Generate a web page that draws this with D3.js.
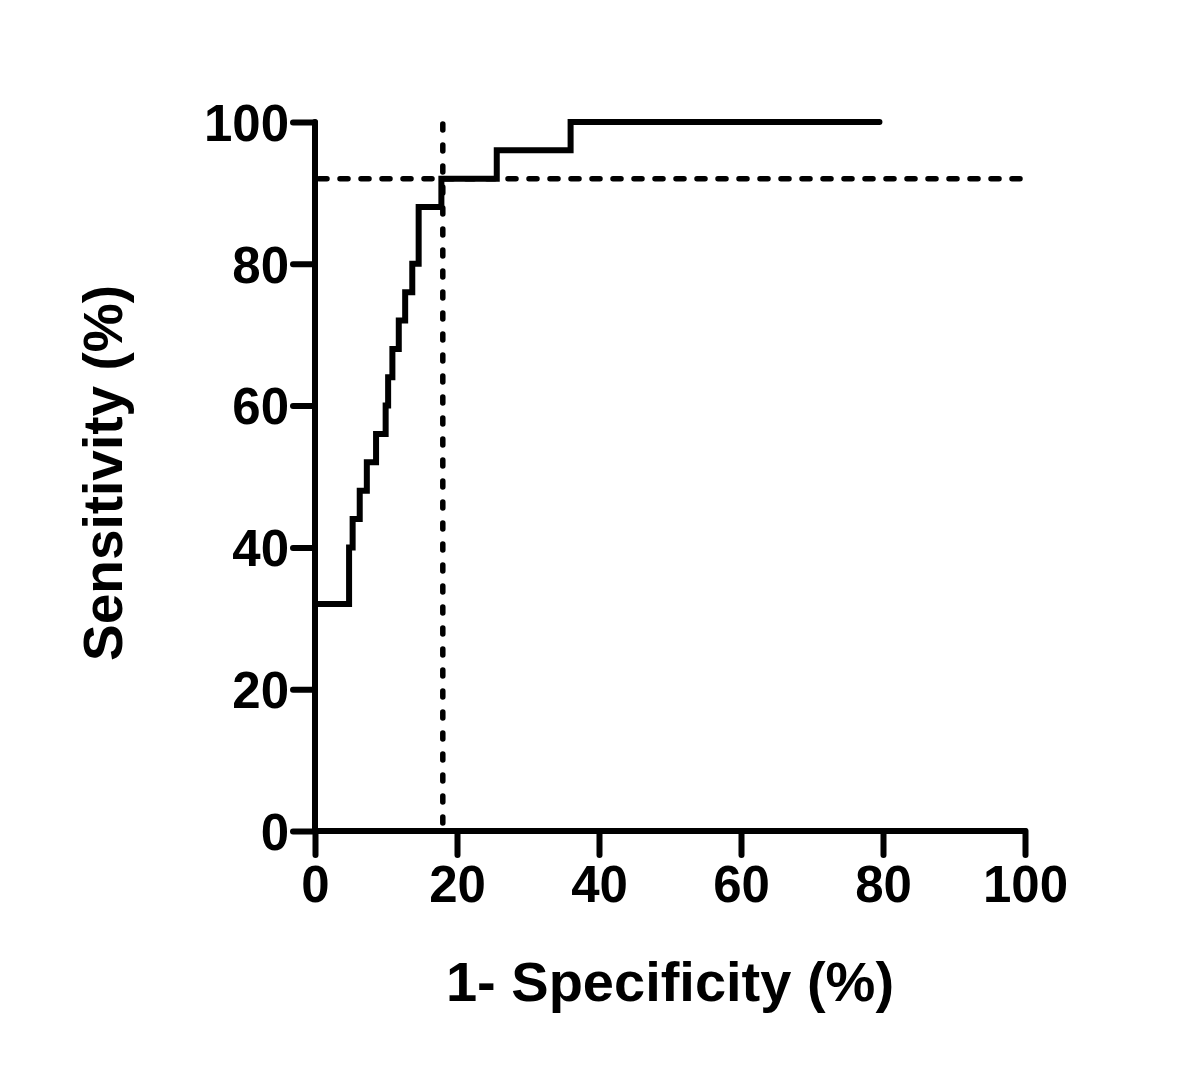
<!DOCTYPE html>
<html lang="en">
<head>
<meta charset="utf-8">
<title>ROC curve</title>
<script src="https://d3js.org/d3.v7.min.js"></script>
<style>
  body { margin: 0; background: #fff; }
  text { font-family: "Liberation Sans", Arial, sans-serif; font-weight: bold; fill: #000; }
</style>
</head>
<body>
<svg id="chart" width="1200" height="1077"></svg>
<script>
// ROC step vertices (1 - specificity, sensitivity), in %
var fpr = [0, 0, 4.8, 5.3, 6.3, 7.3, 8.6, 9.95, 10.3, 10.9, 11.8, 12.7, 13.7, 14.6, 17.8, 25.6, 36.0, 79.5];
var tpr = [0, 32, 40, 44, 48, 52, 56, 60, 64, 68, 72, 76, 80, 88, 92, 96, 100, 100];
// cut-off point marked by dotted lines
var cutX = 18;
var cutY = 92;
var xTicks = [0, 20, 40, 60, 80, 100];
var yTicks = [0, 20, 40, 60, 80, 100];

var svg = d3.select("#chart");

var x = d3.scaleLinear().domain([0, 100]).range([315, 1025]);
var y = d3.scaleLinear().domain([0, 100]).range([831, 122]);

// dotted reference lines
svg.append("line")
   .attr("x1", x(0) + 4).attr("x2", x(100) + 4)
   .attr("y1", y(cutY)).attr("y2", y(cutY))
   .attr("stroke", "#000").attr("stroke-width", 5.5)
   .attr("stroke-dasharray", "8,13").attr("stroke-linecap", "round");

svg.append("line")
   .attr("x1", x(cutX)).attr("x2", x(cutX))
   .attr("y1", y(100) + 2).attr("y2", y(0))
   .attr("stroke", "#000").attr("stroke-width", 5.5)
   .attr("stroke-dasharray", "6,15").attr("stroke-linecap", "round");

// axes
var xAxis = svg.append("g")
   .attr("transform", "translate(0," + y(0) + ")")
   .call(d3.axisBottom(x).tickValues(xTicks).tickSize(24).tickPadding(10).tickFormat(d3.format("d")));

var yAxis = svg.append("g")
   .attr("transform", "translate(" + x(0) + ",0)")
   .call(d3.axisLeft(y).tickValues(yTicks).tickSize(22).tickPadding(4).tickFormat(d3.format("d")));

[xAxis, yAxis].forEach(function(g) {
  g.select(".domain").attr("stroke", "#000").attr("stroke-width", 6).attr("stroke-linecap", "round");
  g.selectAll(".tick line").attr("stroke", "#000").attr("stroke-width", 6).attr("stroke-linecap", "round");
  g.selectAll(".tick text").style("font-size", "51px").style("font-family", "'Liberation Sans', Arial, sans-serif")
   .style("font-weight", "bold").attr("fill", "#000");
});
xAxis.select(".domain").attr("d", "M" + x(0) + ",0H" + x(100));
yAxis.select(".domain").attr("d", "M0," + y(0) + "V" + y(100));
xAxis.selectAll(".tick text").attr("dy", "0.72em");
yAxis.selectAll(".tick text").attr("dy", "0.36em");

// ROC curve
var pts = fpr.map(function(d, i) { return [d, tpr[i]]; });
var line = d3.line()
   .x(function(d) { return x(d[0]); })
   .y(function(d) { return y(d[1]); })
   .curve(d3.curveStepAfter);

svg.append("path")
   .datum(pts)
   .attr("d", line)
   .attr("fill", "none")
   .attr("stroke", "#000")
   .attr("stroke-width", 6)
   .attr("stroke-linejoin", "miter")
   .attr("stroke-linecap", "round");

// axis titles
svg.append("text")
   .attr("x", 670).attr("y", 1001)
   .attr("text-anchor", "middle")
   .style("font-size", "56px")
   .text("1- Specificity (%)");

svg.append("text")
   .attr("transform", "translate(122,473) rotate(-90)")
   .attr("text-anchor", "middle")
   .style("font-size", "55px")
   .text("Sensitivity (%)");
</script>
</body>
</html>
